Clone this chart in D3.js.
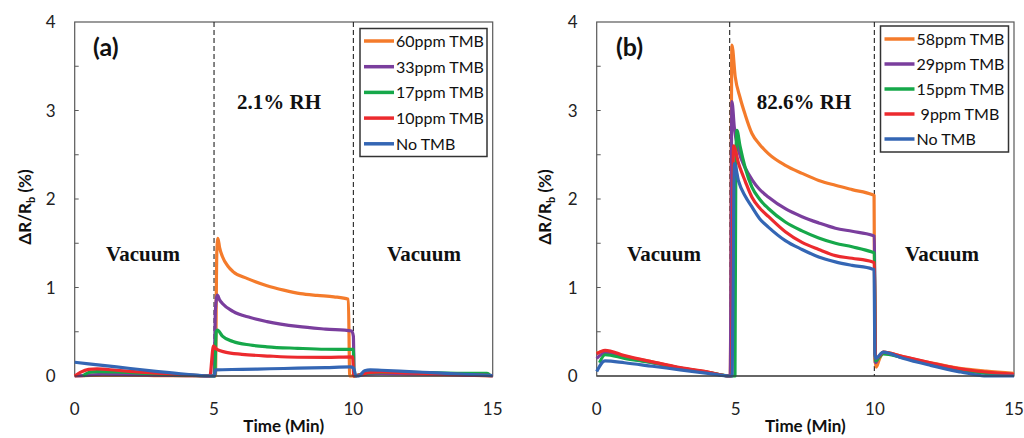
<!DOCTYPE html>
<html>
<head>
<meta charset="utf-8">
<script src="https://cdn.jsdelivr.net/npm/d3@7"></script>
<style>
  body { margin: 0; background: #fff; }
  svg { display: block; font-family: Lato, "Open Sans", sans-serif; }
</style>
</head>
<body>
<svg id="chart" width="1024" height="438"></svg>
<script>
// Panel (a): 2.1% RH
var a60 = [[0,0],[1,0.01],[2,0.01],[3,0.005],[4.95,0],[5.05,0],[5.1,1.4],[5.14,1.556],[5.2,1.45],[5.3,1.35],[5.5,1.24],[5.68,1.18],[6.2,1.1],[6.9,1.02],[7.5,0.97],[8.1,0.93],[8.7,0.91],[9.3,0.895],[9.82,0.867],[9.87,0],[10.2,0.01],[10.6,0.03],[11,0.03],[12,0.025],[13,0.015],[14,0.01],[15,0]];
var a33 = [[0,0],[0.5,0.01],[1,0.02],[2,0.015],[3,0.01],[4,0.005],[5,0],[5.05,0.75],[5.12,0.915],[5.2,0.86],[5.3,0.82],[5.68,0.73],[6.3,0.66],[6.9,0.615],[8,0.56],[9,0.53],[9.94,0.508],[10,0.45],[10.03,0],[10.5,0.02],[11,0.03],[12,0.025],[13,0.02],[14,0.01],[15,0.005]];
var a17 = [[0.3,0],[0.5,0.04],[0.8,0.05],[1.5,0.045],[2.5,0.03],[3.5,0.015],[4.5,0.005],[5.02,0],[5.08,0.5],[5.12,0.52],[5.3,0.45],[5.68,0.39],[6.3,0.35],[6.9,0.33],[8,0.313],[9,0.302],[10,0.3],[10.02,0],[10.3,0.02],[10.6,0.035],[11,0.04],[12,0.04],[13,0.035],[14,0.03],[14.8,0.03],[14.9,0.01]];
var a10 = [[0,0],[0.2,0.04],[0.5,0.075],[0.8,0.08],[1.5,0.065],[2.5,0.04],[3.5,0.02],[4.5,0.005],[4.85,0],[4.98,0.34],[5.1,0.3],[5.4,0.27],[6,0.245],[7,0.225],[8,0.212],[9,0.21],[9.97,0.215],[10.02,0],[10.3,0.02],[10.6,0.04],[11,0.045],[12,0.035],[13,0.025],[14,0.015],[15,0.005]];
var a0 = [[0,0.155],[1,0.12],[2,0.085],[3,0.05],[4,0.02],[4.95,0],[5.02,0],[5.05,0.07],[6,0.075],[7,0.082],[8,0.088],[9,0.095],[9.9,0.102],[10,0.09],[10.1,0],[10.2,0],[10.4,0.06],[10.6,0.07],[11,0.065],[12,0.05],[13,0.035],[14,0.02],[15,0.005]];

// Panel (b): 82.6% RH
var b58 = [[0,0.26],[0.3,0.28],[1,0.22],[2,0.16],[3,0.09],[4,0.045],[4.8,0],[4.86,3.74],[4.98,3.38],[5.15,3.15],[5.34,2.95],[5.58,2.74],[5.85,2.62],[6.18,2.51],[6.78,2.38],[7.38,2.29],[7.98,2.21],[8.58,2.155],[9.18,2.106],[9.9,2.05],[9.97,2.04],[10,0.2],[10.05,0.1],[10.15,0.18],[10.3,0.27],[11,0.22],[12,0.15],[13,0.09],[14,0.055],[15,0.03]];
var b29 = [[0,0.2],[0.3,0.26],[1,0.21],[2,0.15],[3,0.085],[4,0.04],[4.8,0],[4.86,3.1],[4.95,2.8],[5.1,2.55],[5.34,2.35],[5.58,2.22],[5.85,2.11],[6.18,2.02],[6.78,1.89],[7.38,1.8],[7.98,1.73],[8.58,1.67],[9.18,1.635],[9.9,1.59],[9.98,1.58],[10.02,0.15],[10.15,0.22],[10.3,0.26],[11,0.21],[12,0.14],[13,0.075],[14,0.035],[15,0.015]];
var b15 = [[0.1,0.15],[0.3,0.24],[1,0.2],[2,0.15],[3,0.09],[4,0.04],[4.8,0],[4.97,0],[5,2.4],[5.04,2.776],[5.15,2.6],[5.34,2.35],[5.58,2.135],[5.85,2.0],[6.18,1.89],[6.78,1.74],[7.38,1.64],[7.98,1.56],[8.58,1.5],[9.18,1.46],[9.9,1.4],[9.98,1.39],[10.02,0.17],[10.15,0.21],[10.3,0.25],[11,0.21],[12,0.14],[13,0.075],[14,0.03],[15,0.01]];
var b9 = [[0,0.25],[0.3,0.29],[1,0.23],[2,0.16],[3,0.095],[4,0.045],[4.8,0],[4.84,0],[4.92,2.6],[5.1,2.4],[5.34,2.2],[5.58,2.02],[5.85,1.9],[6.18,1.8],[6.78,1.63],[7.38,1.51],[7.98,1.43],[8.58,1.36],[9.18,1.33],[9.9,1.29],[9.98,1.28],[10.02,0.2],[10.15,0.22],[10.3,0.27],[11,0.22],[12,0.15],[13,0.085],[14,0.045],[15,0.02]];
var b0 = [[0,0.05],[0.3,0.17],[1,0.15],[2,0.11],[3,0.07],[4,0.03],[4.8,0],[4.86,0],[4.95,2.4],[5.1,2.2],[5.34,2.03],[5.58,1.91],[5.85,1.78],[6.18,1.68],[6.78,1.53],[7.38,1.43],[7.98,1.345],[8.58,1.29],[9.18,1.25],[9.9,1.21],[9.97,1.2],[10,0.25],[10.03,0.2],[10.3,0.27],[11,0.2],[12,0.12],[13,0.05],[13.5,0.02],[14,0],[15,0]];

var colors = ["#F47B2B", "#7A3E9D", "#16A84A", "#EC2A2E", "#3466B4"];
var labelsA = ["60ppm TMB", "33ppm TMB", "17ppm TMB", "10ppm TMB", "No TMB"];
var labelsB = ["58ppm TMB", "29ppm TMB", "15ppm TMB", "\u00A09ppm TMB", "No TMB"];
var xTicks = [0, 5, 10, 15];
var yTicks = [0, 1, 2, 3, 4];
var dashesA = [5, 10];
var dashesB = [4.78, 9.98];

var svg = d3.select("#chart");

function panel(opts){
  var x = d3.scaleLinear().domain([0, 15]).range([opts.left, opts.right]);
  var y = d3.scaleLinear().domain([0, 4]).range([376, 22]);
  var g = svg.append("g");

  // Frame.
  g.append("rect")
    .attr("x", opts.left).attr("y", y(4))
    .attr("width", opts.right - opts.left).attr("height", y(0) - y(4))
    .attr("fill", "none").attr("stroke", "#595959").attr("stroke-width", 1.2);

  // Minor inward ticks on the y axis.
  g.selectAll(".ytick").data(d3.range(0.5, 4, 0.5)).join("line")
    .attr("x1", opts.left).attr("x2", opts.left + 4)
    .attr("y1", d => y(d)).attr("y2", d => y(d))
    .attr("stroke", "#595959").attr("stroke-width", 1);

  // Tick labels.
  g.selectAll(".ylab").data(yTicks).join("text")
    .attr("x", opts.left - 19).attr("y", d => y(d) + 6)
    .attr("text-anchor", "end").attr("font-size", 17).attr("fill", "#222")
    .text(d => d);
  g.selectAll(".xlab").data(xTicks).join("text")
    .attr("x", d => x(d)).attr("y", 415)
    .attr("text-anchor", "middle").attr("font-size", 17).attr("fill", "#222")
    .text(d => d);

  // Dashed stage lines.
  g.selectAll(".dash").data(opts.dashes).join("line")
    .attr("x1", d => x(d)).attr("x2", d => x(d))
    .attr("y1", y(4)).attr("y2", y(0))
    .attr("stroke", "#222").attr("stroke-width", 1.1)
    .attr("stroke-dasharray", "5,3");

  // Curves.
  var line = d3.line().curve(d3.curveMonotoneX).x(d => x(d[0])).y(d => y(d[1]));
  g.selectAll(".curve").data(opts.series).join("path")
    .attr("d", line)
    .attr("fill", "none")
    .attr("stroke", (d, i) => colors[i])
    .attr("stroke-width", 3.2)
    .attr("stroke-linejoin", "round");

  // Baseline.
  g.append("line")
    .attr("x1", opts.left).attr("x2", opts.right)
    .attr("y1", y(0)).attr("y2", y(0))
    .attr("stroke", "#333").attr("stroke-width", 1.2);

  // Legend.
  var lg = g.append("g").attr("transform", "translate(" + opts.legend[0] + "," + opts.legend[1] + ")");
  lg.append("rect")
    .attr("width", opts.legend[2]).attr("height", opts.legend[3])
    .attr("fill", "#fff").attr("stroke", "#333").attr("stroke-width", 1.5);
  var items = lg.selectAll(".item").data(opts.labels).join("g")
    .attr("transform", (d, i) => "translate(0," + (opts.legend[4] + i * opts.legend[5]) + ")");
  items.append("line")
    .attr("x1", 4).attr("x2", 34)
    .attr("stroke", (d, i) => colors[i]).attr("stroke-width", 3.5);
  items.append("text")
    .attr("x", 36).attr("y", 6)
    .attr("font-size", 16).attr("fill", "#111")
    .text(d => d);

  // Annotations.
  g.append("text")
    .attr("x", opts.tag[0]).attr("y", 56)
    .attr("font-size", 25).attr("font-weight", "bold").attr("fill", "#111")
    .text(opts.tag[1]);
  g.append("text")
    .attr("x", opts.rh[0]).attr("y", 109)
    .attr("text-anchor", "middle")
    .attr("font-family", "'Liberation Serif', serif")
    .attr("font-size", 21).attr("font-weight", "bold").attr("fill", "#111")
    .text(opts.rh[1]);
  g.selectAll(".vac").data(opts.vacuum).join("text")
    .attr("x", d => d).attr("y", 261)
    .attr("text-anchor", "middle")
    .attr("font-family", "'Liberation Serif', serif")
    .attr("font-size", 21).attr("font-weight", "bold").attr("fill", "#111")
    .text("Vacuum");

  // Axis titles.
  g.append("text")
    .attr("x", (opts.left + opts.right) / 2).attr("y", 432)
    .attr("text-anchor", "middle")
    .attr("font-size", 17).attr("font-weight", "bold").attr("fill", "#111")
    .text("Time (Min)");
  var yt = g.append("text")
    .attr("transform", "translate(" + opts.ylabel + ",207) rotate(-90)")
    .attr("text-anchor", "middle")
    .attr("font-size", 17).attr("font-weight", "bold").attr("fill", "#111");
  yt.append("tspan").text("\u0394R/R");
  yt.append("tspan").attr("font-size", 11).attr("dy", 4).text("b");
  yt.append("tspan").attr("dy", -4).text(" (%)");
}

panel({
  left: 74.7, right: 492.7,
  series: [a60, a33, a17, a10, a0],
  labels: labelsA,
  dashes: dashesA,
  legend: [360, 28.5, 127, 128, 12.5, 25.7],
  tag: [93, "(a)"],
  rh: [279, "2.1% RH"],
  vacuum: [143, 424],
  ylabel: 31
});

panel({
  left: 596.7, right: 1014,
  series: [b58, b29, b15, b9, b0],
  labels: labelsB,
  dashes: dashesB,
  legend: [880.5, 26, 128, 126, 13, 25],
  tag: [616, "(b)"],
  rh: [804, "82.6% RH"],
  vacuum: [664, 942],
  ylabel: 551
});
</script>
</body>
</html>
